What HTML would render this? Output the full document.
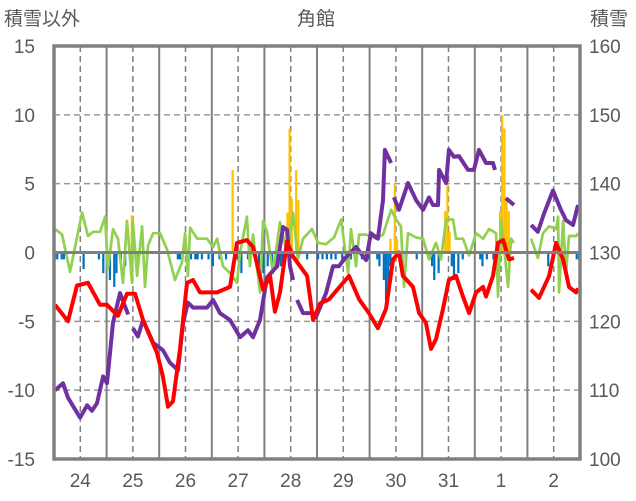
<!DOCTYPE html>
<html><head><meta charset="utf-8"><style>
body{margin:0;background:#fff;}
svg{display:block;font-family:"Liberation Sans","Noto Sans CJK JP",sans-serif;}
</style></head><body>
<svg id="chart" width="636" height="501" viewBox="0 0 636 501">
<g id="grid"></g>
<g id="bars"></g>
<g id="lines"></g>
<g id="axes"></g>
<text x="316" y="25" text-anchor="middle" font-size="19" fill="#595959">角館</text>
<text x="4" y="25" font-size="19" fill="#595959">積雪以外</text>
<text x="590" y="25" font-size="19" fill="#595959">積雪</text>
</svg>
<script>
const dayLabels=["24","25","26","27","28","29","30","31","1","2"];
const leftTicks=[-15,-10,-5,0,5,10,15];
const rightTicks=[100,110,120,130,140,150,160];
const redT=[0.5,6.4,10.5,15.5,21,24.2,29.2,33.3,37,40.6,47,49.7,52,54.3,57.5,60.7,63.4,66.6,74.4,80.3,83.5,88,90.8,95.4,98.6,100.8,103.1,106.3,109.1,115.5,118.2,121.4,125.5,131.9,134.6,139.2,143.7,147.8,151.5,154.7,157.4,159.2,163.8,166.6,169.7,172,174.3,177.5,180.2,183.4,186.6,189.4,192.6,195.8,197.1,200.3,202.6,204.9,207.6,209.9,214,217.7,221.3,225.9,229.1,232.3,235,238.2,239.1];
const redV=[-3.8,-5,-2.4,-2.2,-3.8,-3.8,-4.6,-3,-3,-4.9,-7.3,-9,-11.2,-10.8,-7,-2.2,-2,-2.9,-2.9,-2.5,0.7,0.9,0.4,-2.7,-1.7,-4.3,-2.9,0.8,-0.3,-1.7,-4.9,-3.7,-3.4,-2.2,-1.7,-3.4,-4.4,-5.5,-4.1,-0.5,0,-1.7,-2.5,-4.4,-5.1,-7,-6.3,-4.1,-2,-1.7,-3.2,-4.4,-2.9,-2.5,-3.2,-1.7,0.7,0.9,-0.5,-0.4,null,-2.7,-3.3,-1.7,0.7,-0.5,-2.5,-2.9,-2.6];
const snowT=[0.5,4.1,6.4,11.9,15.1,17.3,19.6,22.4,24.2,26.9,30.1,33.8,35,36,38.3,40.6,45.2,49.7,52.9,56.6,58.9,61.1,63.4,69.8,72.6,75.7,80.3,84.9,88.5,90.8,94,97.2,101.8,104.5,106.3,107.7,109.1,110,110.9,113.6,118.2,119.5,124.1,127.3,130,132.3,137.8,142.4,144.6,147.8,150.1,151,153.8,154.5,155.1,157.4,161.5,165.2,168.4,171.1,172.9,175.2,175.7,178.9,180.2,182.5,184.8,188.9,191.6,193.9,197.1,200.3,201.2,204,206.2,209.9,214,217.7,220.8,223.6,227.7,231.3,233.6,236.8,239.1];
const snowV=[110,111,108.9,106,107.8,107,108.1,112,111,119.8,124.1,121,null,119,117.8,120.2,116.9,115.8,114,112.9,119.8,122.7,122,122,123.1,121.2,120.2,117.7,118.7,117.7,120.2,126.4,128,133.7,133.3,128,126,null,123.1,121.2,121.2,120.6,124.1,128,128,129,130.8,128.9,132.8,132,137.6,144.9,143,null,138,136.2,140.1,137.6,136.2,138,136.9,136.9,142,140.1,144.9,143.9,144,142,142,144.9,143,143,142,null,137.9,136.9,null,134,133,135.7,139,136.2,134.7,134,136.9];
const windT=[0.5,3.7,7.3,12.8,15.5,17.8,21,23.3,24.6,26.9,29.2,31.5,33.3,35.6,36,37.9,40.2,41.5,42.9,45.2,48.4,51.6,55.2,58.4,59.8,61.1,62.1,65.3,69.8,72.6,74.4,77.1,80.3,83.5,84.9,88,89.4,90.8,94,95.4,97.2,99.9,103.1,106.3,109.1,111.3,113.6,117.7,120.5,124.1,127.8,131,134.2,135.5,137.8,139.2,142.4,146.9,150.1,153.8,156.1,158.3,159.7,161.5,165.2,168.4,171.1,174.3,176.6,178.9,182.1,183.4,186.6,189.4,192.6,195.8,198.5,201.7,202.6,204,207.2,208.5,209.9,214,217.7,220.8,223.1,225.9,229.1,230,230.4,232.3,233.6,235,238.2,239.1];
const windV=[1.7,1.3,-1.4,2.9,1.2,1.5,1.5,2.6,-1.2,1.7,1,-2.2,2.3,-2.2,2.2,-1.7,1.9,-2.5,0.5,1.4,1.4,0.2,-2,-0.7,1.4,-1.7,1.8,1,1,0.4,1,-1,-1.5,-2.2,0,2.6,-1,1.3,-2.9,2.3,1.5,-1.5,2.2,0,2.9,-0.5,1,1.7,0.7,0.6,1.1,2.4,-1.5,1.7,-1,1.3,1.3,1,1.3,3.1,2.4,1.9,-2.5,1.4,1.1,1,-0.5,0.7,-0.5,2.4,2.4,1,1,-0.2,1.4,1,1.7,1.4,-3.2,2.4,-2.5,1,0.7,null,1,-0.4,1.4,1.9,1.7,2.6,-2.9,2.3,-1.5,1.2,1.2,1.4];
const snowfallH=[35,81,106,107,108,110,111,153,155,156,178,179,180,203,204,205,206,207];
const snowfallV=[2.7,6,2.9,9,3.9,6,3.8,1,5,1,3,5,1.5,3,10,9,4,3];
const meltH=[0,1,3,4,13,20,22,25,27,28,30,32,38,56,57,60,62,64,65,67,70,72,75,78,83,85,88,93,95,97,99,101,103,104,115,120,122,124,126,128,131,135,140,143,147,148,150,151,152,153,158,160,165,171,172,173,175,176,181,182,184,186,194,195,197,200,225,227,230,238,239];
const meltV=[-0.5,-0.5,-0.5,-0.5,-1.2,-0.5,-1.5,-2,-2.5,-1.5,-0.5,-1,-0.5,-0.5,-0.5,-0.5,-0.5,-0.5,-0.5,-0.5,-0.5,-1,-0.5,-0.5,-0.5,-1.5,-0.5,-1,-1.5,-1,-1.5,-1.2,-1,-1,-0.5,-0.5,-0.5,-0.5,-0.5,-0.5,-0.5,-0.5,-0.5,-0.5,-0.5,-1,-2,-3.5,-2.5,-1,-1,-0.5,-0.5,-0.5,-1,-2,-1.5,-0.5,-1,-2,-1.5,-0.5,-0.5,-1,-0.5,-0.5,-1,-0.5,-0.5,-0.5,-0.5];

const L=54,R=580,T=46,B=459;
const NS="http://www.w3.org/2000/svg";
const x=t=>L+t/240*(R-L);
const yL=v=>T+(15-v)/30*(B-T);
const yR=v=>T+(160-v)/60*(B-T);
function mk(tag,attrs,parent){const e=document.createElementNS(NS,tag);for(const k in attrs)e.setAttribute(k,attrs[k]);parent.appendChild(e);return e;}
const grid=document.getElementById('grid'),bars=document.getElementById('bars'),lines=document.getElementById('lines'),axes=document.getElementById('axes');
leftTicks.forEach(v=>{
  if(v!==15&&v!==-15&&v!==0){const g=mk('line',{x1:L,x2:R,y1:yL(v),y2:yL(v),stroke:'#999',"stroke-width":1.5,"stroke-dasharray":"6,4"},grid);
  
  }
  const t=mk('text',{x:35,y:yL(v)+7,"text-anchor":"end","font-size":19,fill:'#595959'},axes);t.textContent=v;
  
  
});
rightTicks.forEach(v=>{
  const t=mk('text',{x:589,y:yR(v)+7,"font-size":19,fill:'#595959'},axes);t.textContent=v;
  
  
});
dayLabels.forEach((d,i)=>{
  const cx=x(i*24+12);
  const g=mk('line',{x1:cx,x2:cx,y1:T,y2:B,stroke:'#808080',"stroke-width":1.5,"stroke-dasharray":"6,4"},grid);
  
  
  if(i>0){const s=mk('line',{x1:x(i*24),x2:x(i*24),y1:T,y2:B,stroke:'#808080',"stroke-width":2},grid);
  
  }
  const t=mk('text',{x:cx,y:487,"text-anchor":"middle","font-size":19,fill:'#595959'},axes);t.textContent=d;
  
  
});
const bw=(R-L)/240;
snowfallH.forEach((h,i)=>{const v=snowfallV[i];
  const r=mk('rect',{x:x(h),y:yL(v),width:bw,height:yL(0)-yL(v),fill:'#FFC000'},bars);
  
  });
meltH.forEach((h,i)=>{const v=meltV[i];
  const r=mk('rect',{x:x(h),y:yL(0),width:bw,height:yL(v)-yL(0),fill:'#0070C0'},bars);
  
  });
const z=mk('line',{x1:L,x2:R,y1:yL(0),y2:yL(0),stroke:'#808080',"stroke-width":3},axes);


function path(ts,vs,yf){let d='',pen=false;ts.forEach((t,i)=>{const v=vs[i];if(v===null){pen=false;return;}d+=(pen?'L':'M')+x(t).toFixed(1)+','+yf(v).toFixed(1);pen=true;});return d;}
const g1=mk('path',{d:path(windT,windV,yL),fill:'none',stroke:'#92D050',"stroke-width":2.7,"stroke-linejoin":"round"},lines);


const p1=mk('path',{d:path(snowT,snowV,yR),fill:'none',stroke:'#7030A0',"stroke-width":4,"stroke-linejoin":"round"},lines);


const r1=mk('path',{d:path(redT,redV,yL),fill:'none',stroke:'#FF0000',"stroke-width":4,"stroke-linejoin":"round"},lines);


const f=mk('rect',{x:L,y:T,width:R-L,height:B-T,fill:'none',stroke:'#808080',"stroke-width":3.5},axes);


</script>
</body></html>
